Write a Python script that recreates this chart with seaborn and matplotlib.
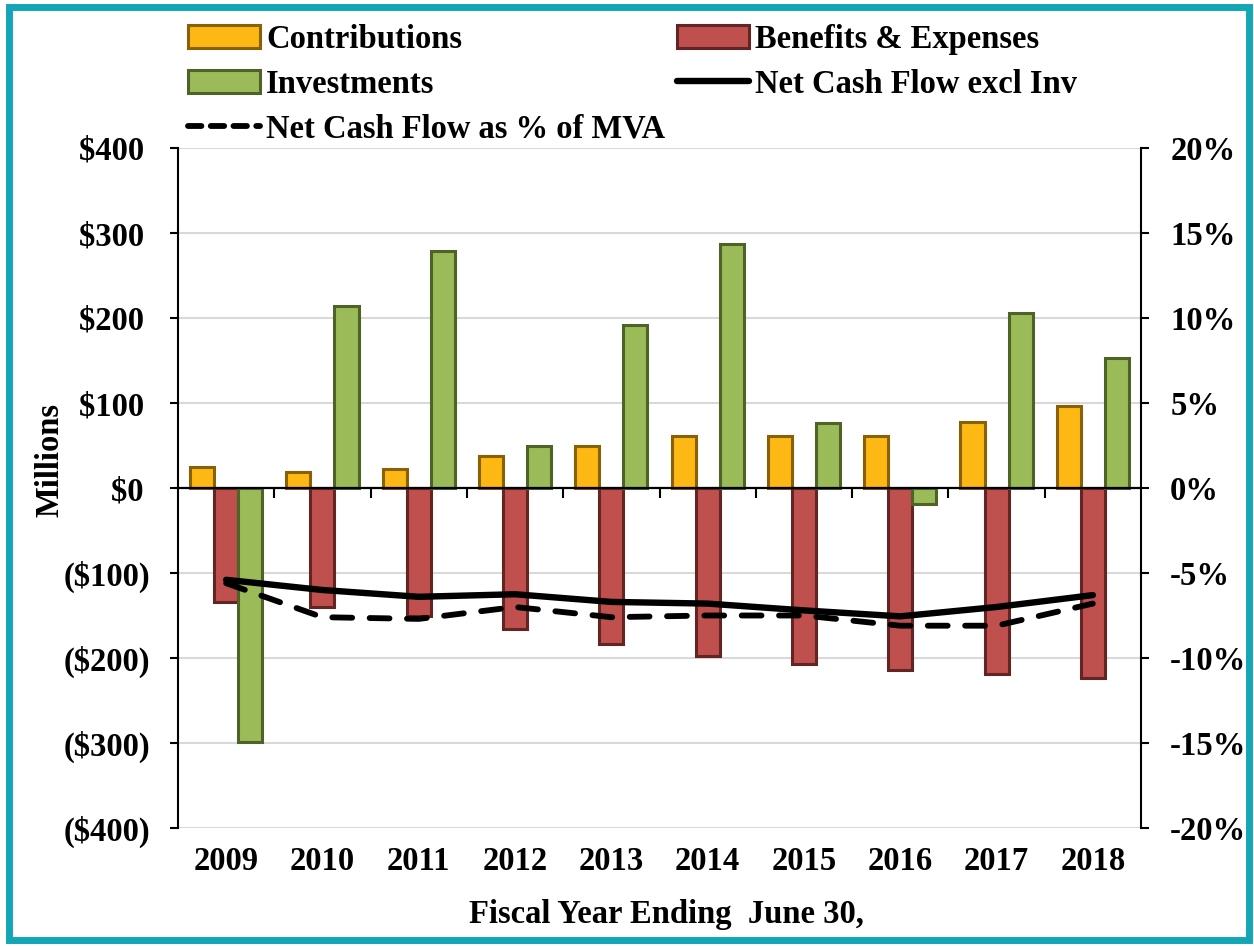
import numpy as np
import pandas as pd
import matplotlib
matplotlib.use("Agg")
import matplotlib.pyplot as plt
import matplotlib.ticker as mticker
from matplotlib.patches import Rectangle
from matplotlib.lines import Line2D
import seaborn as sns

# ---- data ----
years = ['2009', '2010', '2011', '2012', '2013', '2014', '2015', '2016', '2017', '2018']
contributions = [25, 19, 22, 38, 49, 61, 61, 61, 78, 96]
benefits = [-134, -140, -151, -166, -184, -198, -207, -214, -219, -224]
investments = [-299, 214, 279, 49, 192, 287, 76, -19, 206, 153]
net_cash_flow = [-108, -120, -128, -125, -134, -136, -144, -151, -140, -126]
ncf_pct_mva = [-5.6, -7.6, -7.7, -7.0, -7.6, -7.5, -7.5, -8.1, -8.1, -6.8]
series_names = ['Contributions', 'Benefits & Expenses', 'Investments']
line_names = ['Net Cash Flow excl Inv', 'Net Cash Flow as % of MVA']

fill_colors = ['#FDB813', '#C0504D', '#9BBB59']
edge_colors = ['#8A6100', '#632523', '#4F6228']

df = pd.DataFrame({
    'Year': years * 3,
    'Value': contributions + benefits + investments,
    'Series': [s for s in series_names for _ in years],
})

sns.set_theme(style='white')
plt.rcParams['font.family'] = ['Liberation Serif', 'DejaVu Serif']
plt.rcParams['font.weight'] = 'bold'
for k in ['text.color', 'axes.labelcolor', 'xtick.color', 'ytick.color']:
    plt.rcParams[k] = 'black'
FS = 23.5

W, H = 1254, 946
fig = plt.figure(figsize=(W / 100, H / 100), dpi=100)
fig.patch.set_facecolor('white')
L, R, T, B = 178, 1141, 148, 828
ax = fig.add_axes([L / W, 1 - B / H, (R - L) / W, (B - T) / H])
ax.set_facecolor('white')

sns.barplot(data=df, x='Year', y='Value', hue='Series', hue_order=series_names,
            palette=fill_colors, width=0.75, errorbar=None, linewidth=2.2,
            legend=False, ax=ax, saturation=1)
for cont, ec in zip(ax.containers, edge_colors):
    for p in cont:
        p.set_edgecolor(ec)
        p.set_linewidth(2.2)
        p.set_zorder(2)
ax.set_xlabel('')

x = np.arange(len(years))
line1, = ax.plot(x, net_cash_flow, color='black', lw=4.6, solid_capstyle='round',
                 solid_joinstyle='round', zorder=4)

ax.set_ylim(-400, 400)
ax.set_xlim(-0.5, len(years) - 0.5)
ax.set_yticks(np.arange(-400, 401, 100))
ax.yaxis.set_major_formatter(mticker.FuncFormatter(
    lambda v, p: f'(${abs(v):.0f})' if v < -0.5 else f'${abs(v):.0f}\u2009'))
ax.grid(axis='y', color='#D9D9D9', lw=1.5)
ax.grid(axis='x', visible=False)
ax.set_axisbelow(True)

for s in ['top', 'right']:
    ax.spines[s].set_visible(False)
ax.spines['left'].set_color('black')
ax.spines['left'].set_linewidth(1.5)
# zero line = bottom spine moved to y=0, with category-boundary ticks
ax.spines['bottom'].set_position(('data', 0))
ax.spines['bottom'].set_color('black')
ax.spines['bottom'].set_linewidth(1.6)
ax.spines['bottom'].set_zorder(3)
ax.set_xticks(np.arange(0.5, len(years) - 1, 1.0))
ax.set_xticklabels([])
ax.tick_params(axis='x', direction='out', length=7, width=1.5, color='black',
               bottom=True, labelbottom=False)
ax.tick_params(axis='y', direction='out', length=6, width=1.5, color='black',
               pad=14, labelsize=FS, left=True, labelcolor='black')
for lab in ax.get_yticklabels():
    lab.set_fontweight('bold')

# year labels at the bottom of the plot area
yr = ax.secondary_xaxis(0)
yr.set_xticks(x)
yr.set_xticklabels(years, fontsize=FS, fontweight='bold', color='black')
yr.tick_params(axis='x', length=0, pad=13)
for s in yr.spines.values():
    s.set_visible(False)

ax.set_ylabel('Millions', fontsize=FS, fontweight='bold', color='black')
ax.yaxis.set_label_coords(-0.117, 0.541)
ax.text(0.507, -0.104, 'Fiscal Year Ending  June 30,', transform=ax.transAxes,
        ha='center', va='top', fontsize=FS, fontweight='bold', color='black')

# secondary y axis (percent)
ax2 = ax.twinx()
line2, = ax2.plot(x, np.array(ncf_pct_mva) / 100, color='black', lw=4.2,
                  dashes=(3.4, 3.0), dash_capstyle='round', zorder=5)
ax2.set_ylim(-0.20, 0.20)
ax2.set_yticks(np.arange(-0.20, 0.201, 0.05))
ax2.yaxis.set_major_formatter(mticker.FuncFormatter(
    lambda v, p: f'{round(v * 100) + 0:.0f}%'))
for s in ['top', 'bottom', 'left']:
    ax2.spines[s].set_visible(False)
ax2.spines['right'].set_color('black')
ax2.spines['right'].set_linewidth(1.5)
ax2.tick_params(axis='y', direction='out', length=6, width=1.5, color='black',
                pad=15, labelsize=FS, right=True, labelcolor='black')
ax2.tick_params(axis='x', length=0, labelbottom=False, bottom=False)
for lab in ax2.get_yticklabels():
    lab.set_fontweight('bold')
ax2.grid(False)

# legends
h_contrib, h_ben, h_inv = ax.containers[0], ax.containers[1], ax.containers[2]
h_line1 = Line2D([], [], color='black', lw=4.6, solid_capstyle='round')
h_line2 = Line2D([], [], color='black', lw=4.2, dashes=(2.3, 1.6), dash_capstyle='round')
leg_kw = dict(frameon=False, borderpad=0, borderaxespad=0,
              handlelength=2.2, handletextpad=0.2, labelspacing=0.42,
              prop={'weight': 'bold', 'size': FS}, labelcolor='black')
leg1 = fig.legend([h_contrib, h_inv, h_line2],
                  [series_names[0], series_names[2], line_names[1]],
                  loc='upper left', bbox_to_anchor=(188 / W, 1 - 24 / H), **leg_kw)
leg2 = fig.legend([h_ben, h_line1], [series_names[1], line_names[0]],
                  loc='upper left', bbox_to_anchor=(677 / W, 1 - 24 / H), **leg_kw)

# outer teal border
fig.add_artist(Rectangle((8.5 / W, 6.5 / H), (W - 14) / W, (H - 14) / H,
                         transform=fig.transFigure, fill=False,
                         edgecolor='#13A6B6', lw=5))

fig.savefig('out.png', dpi=100, facecolor='white')
